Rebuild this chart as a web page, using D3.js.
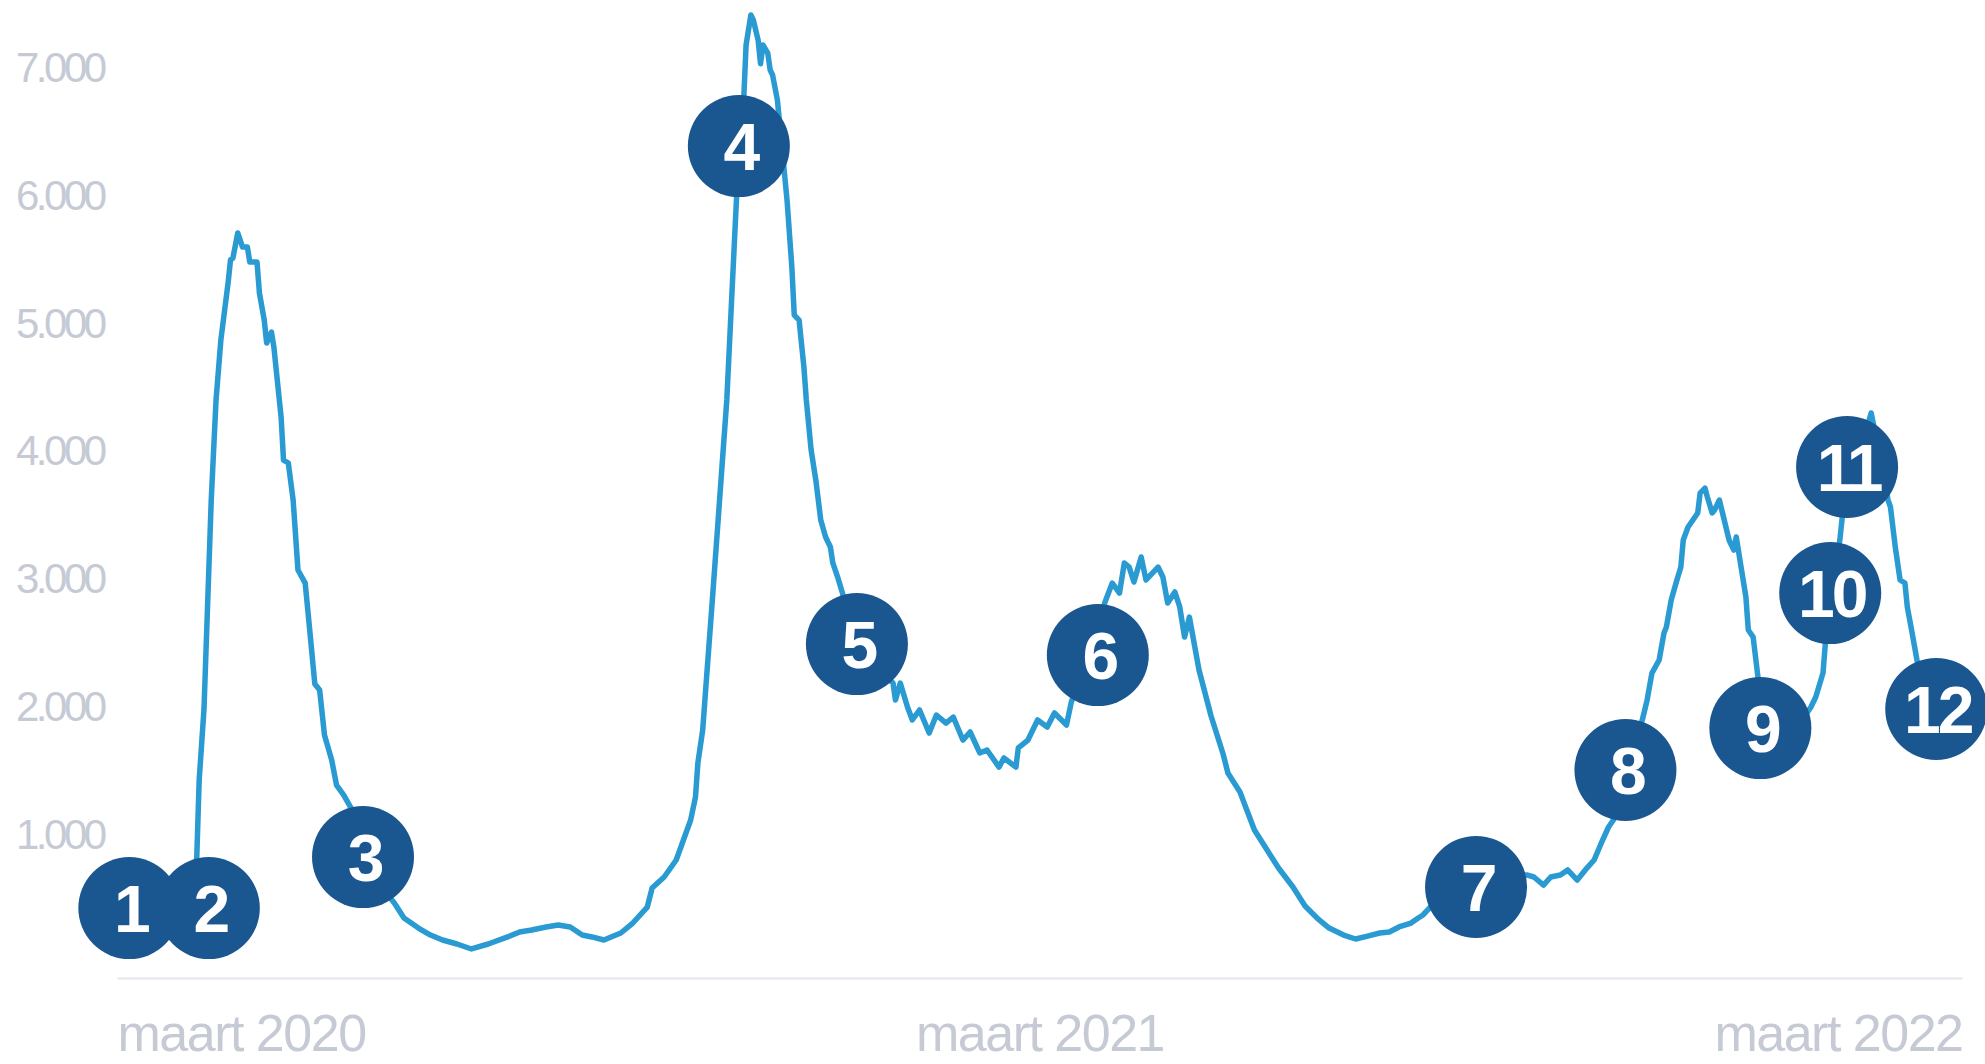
<!DOCTYPE html>
<html>
<head>
<meta charset="utf-8">
<script src="https://cdn.jsdelivr.net/npm/d3@7"></script>
<style>
  html, body { margin: 0; padding: 0; background: #ffffff; }
  svg { display: block; }
</style>
</head>
<body>
<svg id="chart" width="1985" height="1064"></svg>
<script>
// Patients in hospital per day
const dates = [
  "2020-03-18","2020-03-20","2020-03-21","2020-03-23","2020-03-26","2020-03-28","2020-03-30",
  "2020-04-02","2020-04-03","2020-04-04","2020-04-06","2020-04-08","2020-04-10","2020-04-11",
  "2020-04-14","2020-04-15","2020-04-17","2020-04-18","2020-04-20","2020-04-21","2020-04-24",
  "2020-04-25","2020-04-27","2020-04-29","2020-05-01","2020-05-04","2020-05-06","2020-05-08",
  "2020-05-10","2020-05-12","2020-05-15","2020-05-17","2020-05-20","2020-05-23","2020-05-26",
  "2020-05-28","2020-06-04","2020-06-10","2020-06-14","2020-06-20","2020-06-25","2020-06-30",
  "2020-07-06","2020-07-12","2020-07-19","2020-07-27","2020-08-01","2020-08-06","2020-08-12",
  "2020-08-17","2020-08-22","2020-08-27","2020-08-31","2020-09-05","2020-09-12","2020-09-17",
  "2020-09-23","2020-09-25","2020-09-30","2020-10-05","2020-10-08","2020-10-11","2020-10-13",
  "2020-10-14","2020-10-16","2020-10-17","2020-10-20","2020-10-23","2020-10-26","2020-10-28",
  "2020-10-30","2020-11-02","2020-11-03","2020-11-05","2020-11-06","2020-11-08","2020-11-09",
  "2020-11-10","2020-11-12","2020-11-13","2020-11-14","2020-11-16","2020-11-18","2020-11-20",
  "2020-11-22","2020-11-23","2020-11-25","2020-11-27","2020-11-28","2020-11-30","2020-12-02",
  "2020-12-04","2020-12-06","2020-12-08","2020-12-09","2020-12-11","2020-12-13","2020-12-19",
  "2020-12-27","2021-01-03","2021-01-04","2021-01-06","2021-01-09","2021-01-11","2021-01-14",
  "2021-01-18","2021-01-21","2021-01-25","2021-01-28","2021-02-01","2021-02-04","2021-02-08",
  "2021-02-11","2021-02-16","2021-02-18","2021-02-23","2021-02-24","2021-02-28","2021-03-04",
  "2021-03-08","2021-03-11","2021-03-16","2021-03-18","2021-03-26","2021-04-01","2021-04-04",
  "2021-04-07","2021-04-09","2021-04-11","2021-04-13","2021-04-16","2021-04-18","2021-04-23",
  "2021-04-25","2021-04-27","2021-04-30","2021-05-02","2021-05-04","2021-05-06","2021-05-10",
  "2021-05-15","2021-05-20","2021-05-22","2021-05-27","2021-05-30","2021-06-02","2021-06-07",
  "2021-06-12","2021-06-18","2021-06-23","2021-06-28","2021-07-03","2021-07-09","2021-07-14",
  "2021-07-19","2021-07-24","2021-07-28","2021-08-01","2021-08-06","2021-08-09","2021-08-11",
  "2021-08-14","2021-09-02","2021-09-23","2021-09-26","2021-09-30","2021-10-03","2021-10-07",
  "2021-10-10","2021-10-14","2021-10-18","2021-10-21","2021-10-24","2021-10-27","2021-10-29",
  "2021-11-03","2021-11-10","2021-11-12","2021-11-14","2021-11-17","2021-11-19","2021-11-20",
  "2021-11-22","2021-11-24","2021-11-26","2021-11-27","2021-11-29","2021-12-01","2021-12-03",
  "2021-12-04","2021-12-06","2021-12-07","2021-12-09","2021-12-10","2021-12-12","2021-12-14",
  "2021-12-16","2021-12-18","2021-12-19","2021-12-21","2021-12-23","2021-12-24","2021-12-26",
  "2021-12-28","2022-01-01","2022-01-10","2022-01-19","2022-01-21","2022-01-24","2022-01-25",
  "2022-01-28","2022-01-31","2022-02-01","2022-02-06","2022-02-11","2022-02-13","2022-02-17",
  "2022-02-20","2022-02-21","2022-02-23","2022-02-25","2022-02-27","2022-02-28","2022-03-02",
  "2022-03-04","2022-03-07"
];

const values = [
  571, 946, 1549, 2104, 3738, 4521, 4990,
  5436, 5616, 5631, 5827, 5717, 5717, 5600,
  5600, 5357, 5146, 4966, 5052, 4935, 4388,
  4051, 4028, 3738, 3191, 3089, 2698, 2299,
  2252, 1901, 1705, 1509, 1431, 1330, 1275,
  946, 727, 587, 469, 391, 336, 297,
  266, 227, 266, 321, 360, 375, 399,
  415, 399, 336, 321, 297, 352, 430,
  555, 704, 790, 923, 1079, 1236, 1416,
  1682, 1940, 2198, 2956, 3738, 4521, 5303,
  6085, 6867, 7297, 7532, 7493, 7336, 7150,
  7297, 7234, 7102, 7063, 6867, 6476, 6085,
  5561, 5185, 5146, 4779, 4521, 4130, 3887,
  3582, 3449, 3371, 3246, 3136, 3011, 2612,
  2425, 2307, 2174, 2307, 2120, 2018, 2096,
  1916, 2057, 1994, 2041, 1861, 1924, 1760,
  1783, 1650, 1721, 1650, 1799, 1861, 2018,
  1963, 2073, 1979, 2159, 2565, 2941, 3089,
  3011, 3246, 3214, 3097, 3293, 3113, 3214,
  3136, 2933, 3019, 2902, 2667, 2823, 2409,
  2049, 1752, 1603, 1455, 1306, 1158, 1009,
  860, 712, 563, 469, 391, 336, 305,
  328, 352, 360, 399, 430, 469, 493,
  555, 688, 806, 790, 727, 790, 806,
  845, 766, 860, 923, 1056, 1181, 1236,
  1627, 2018, 2174, 2385, 2487, 2698, 2745,
  2956, 3089, 3214, 3426, 3527, 3582, 3637,
  3793, 3832, 3762, 3637, 3660, 3738, 3582,
  3426, 3347, 3449, 3214, 2980, 2722, 2667,
  2354, 1822, 1861, 2120, 2198, 2385, 2620,
  3035, 3426, 3606, 3973, 4286, 4419, 4051,
  3738, 3684, 3371, 3113, 3089, 2902, 2698,
  2487, 2213
];

const yTicks = [1000, 2000, 3000, 4000, 5000, 6000, 7000];
const xLabels = ["maart 2020", "maart 2021", "maart 2022"];

// Numbered event markers
const markerLabels = ["1","2","3","4","5","6","7","8","9","10","11","12"];
const markerDates = [
  "2020-02-21","2020-03-25","2020-05-28","2020-10-31","2020-12-19","2021-03-29",
  "2021-09-02","2021-11-03","2021-12-29","2022-01-27","2022-02-03","2022-03-12"
];
const markerValues = [547, 547, 946, 6507, 2612, 2526, 712, 1627, 1955, 3011, 3997, 2104];

const FONT = "'Liberation Sans', Arial, Helvetica, sans-serif";
const svg = d3.select("#chart");
const parse = d3.timeParse("%Y-%m-%d");

const series = dates.map((d, i) => ({ date: parse(d), value: values[i] }));

const x = d3.scaleTime()
  .domain([parse("2020-03-01"), parse("2022-03-31")])
  .range([151, 1982]);
const y = d3.scaleLinear().domain([0, 7000]).range([978, 83]);

const nl = d3.formatLocale({ decimal: ",", thousands: ".", grouping: [3], currency: ["€ ", ""] });
const fmt = nl.format(",");

// Value axis: labels only, baseline on the tick
const gy = svg.append("g")
  .call(d3.axisLeft(y).tickValues(yTicks).tickFormat(fmt).tickSize(0));
gy.select(".domain").remove();
gy.selectAll("text")
  .attr("x", 16)
  .attr("dy", "-0.04em")
  .attr("text-anchor", "start")
  .attr("fill", "#c5cad5")
  .style("font-family", FONT)
  .style("font-size", "42px")
  .style("letter-spacing", "-3.5px");

// Time axis: baseline rule with labels at start, middle and end
const xPos = d3.scalePoint().domain(xLabels).range([117, 1962]);
const gx = svg.append("g")
  .attr("transform", "translate(0,978)")
  .call(d3.axisBottom(xPos).tickSize(0).tickSizeOuter(0));
gx.select(".domain").attr("stroke", "#e2e5ec").attr("stroke-width", 2);
gx.selectAll("text")
  .attr("y", 73)
  .attr("dy", 0)
  .attr("text-anchor", (d, i) => i === 0 ? "start" : (i === xLabels.length - 1 ? "end" : "middle"))
  .attr("fill", "#c5cad5")
  .style("font-family", FONT)
  .style("font-size", "52px")
  .style("letter-spacing", "-1.5px");

// Series line
const line = d3.line()
  .x(d => x(d.date))
  .y(d => y(d.value));

svg.append("path")
  .datum(series)
  .attr("d", line)
  .attr("fill", "none")
  .attr("stroke", "#2a9ad2")
  .attr("stroke-width", 5.5)
  .attr("stroke-linejoin", "round")
  .attr("stroke-linecap", "round");

// Markers
const markers = markerLabels.map((l, i) => ({ label: l, date: parse(markerDates[i]), value: markerValues[i] }));
const gm = svg.append("g").selectAll("g")
  .data(markers)
  .join("g")
  .attr("transform", d => `translate(${x(d.date)},${y(d.value)})`);

gm.append("circle")
  .attr("r", 51)
  .attr("fill", "#1a5690");

gm.append("text")
  .attr("text-anchor", "middle")
  .attr("x", 1.5)
  .attr("y", 24)
  .attr("fill", "#ffffff")
  .style("font-family", FONT)
  .style("font-size", "66px")
  .style("font-weight", "bold")
  .style("letter-spacing", "-3px")
  .text(d => d.label);
</script>
</body>
</html>
